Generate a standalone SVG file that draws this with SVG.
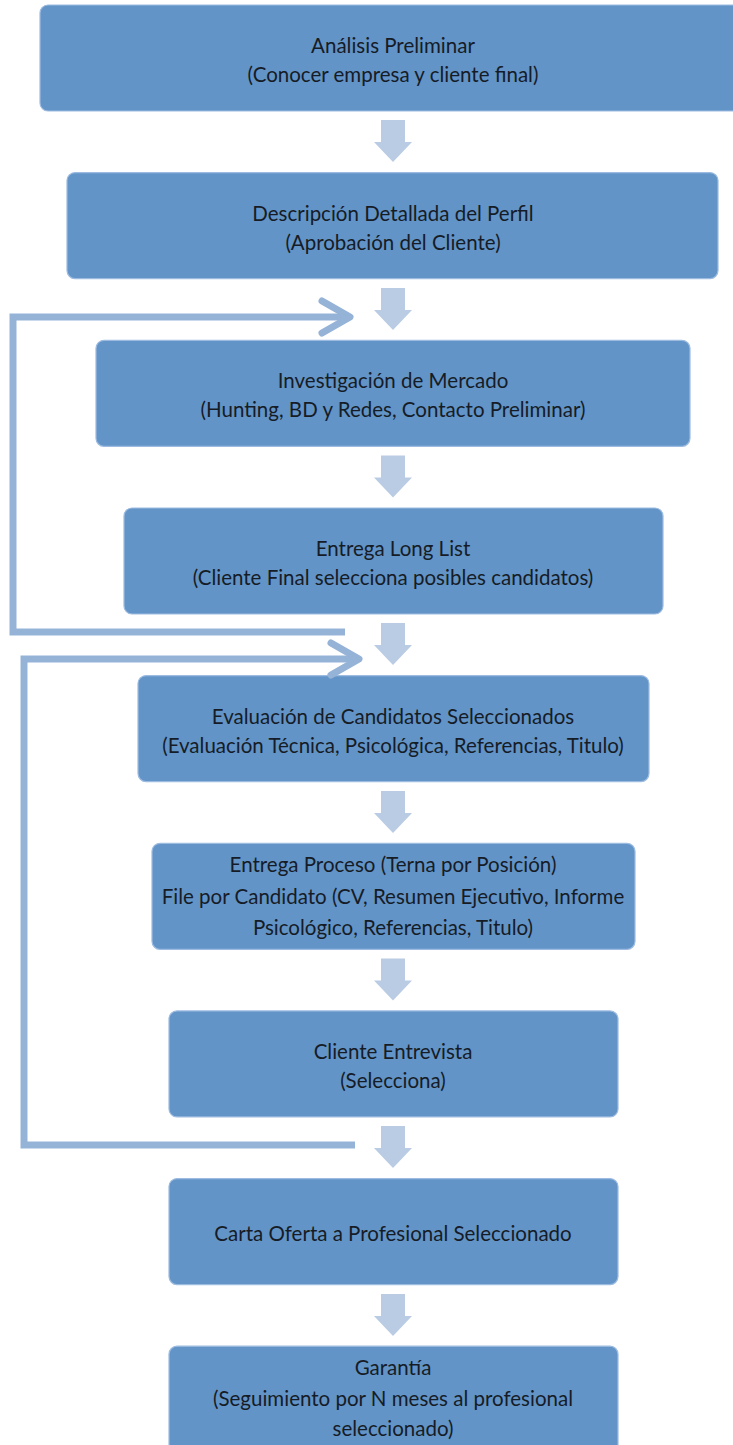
<svg xmlns="http://www.w3.org/2000/svg" width="733" height="1445" viewBox="0 0 733 1445">
<style>
.box{fill:#6294c8;stroke:#9dbbe0;stroke-width:1.2}
.t{font-family:Lato,"Open Sans","Liberation Sans",sans-serif;font-size:20.5px;fill:#161c26;text-anchor:middle;dominant-baseline:central}
.loop{fill:none;stroke:#95b3d7;stroke-width:7}
.chev{fill:none;stroke:#95b3d7;stroke-width:7;stroke-linecap:round;stroke-linejoin:round}
.blk{fill:#b9cce4}
</style>
<defs>
<path id="darr" d="M-12 0 H12 V22 H19 L0 42 L-19 22 H-12 Z"/>
</defs>
<rect width="733" height="1445" fill="#ffffff"/>
<g id="n1"><rect class="box" x="40" y="5" width="706" height="106" rx="8"/><text class="t" x="393" y="45">Análisis Preliminar</text><text class="t" x="393" y="74">(Conocer empresa y cliente final)</text></g>
<g id="n2"><rect class="box" x="67" y="172.6" width="651" height="106" rx="8"/><text class="t" x="393" y="212.6">Descripción Detallada del Perfil</text><text class="t" x="393" y="241.6">(Aprobación del Cliente)</text></g>
<g id="n3"><rect class="box" x="96" y="340.3" width="594" height="106" rx="8"/><text class="t" x="393" y="380.3">Investigación de Mercado</text><text class="t" x="393" y="409.3">(Hunting, BD y Redes, Contacto Preliminar)</text></g>
<g id="n4"><rect class="box" x="124" y="508" width="539" height="106" rx="8"/><text class="t" x="393" y="548">Entrega Long List</text><text class="t" x="393" y="577">(Cliente Final selecciona posibles candidatos)</text></g>
<g id="n5"><rect class="box" x="138" y="675.6" width="511" height="106" rx="8"/><text class="t" x="393" y="715.6">Evaluación de Candidatos Seleccionados</text><text class="t" x="393" y="744.6">(Evaluación Técnica, Psicológica, Referencias, Titulo)</text></g>
<g id="n6"><rect class="box" x="152" y="843.3" width="483" height="106" rx="8"/><text class="t" x="393" y="864.3">Entrega Proceso (Terna por Posición)</text><text class="t" x="393" y="895.8">File por Candidato (CV, Resumen Ejecutivo, Informe</text><text class="t" x="393" y="927.3">Psicológico, Referencias, Titulo)</text></g>
<g id="n7"><rect class="box" x="169" y="1010.9" width="449" height="106" rx="8"/><text class="t" x="393" y="1050.9">Cliente Entrevista</text><text class="t" x="393" y="1079.9">(Selecciona)</text></g>
<g id="n8"><rect class="box" x="169" y="1178.6" width="449" height="106" rx="8"/><text class="t" x="393" y="1232.6">Carta Oferta a Profesional Seleccionado</text></g>
<g id="n9"><rect class="box" x="169" y="1346.2" width="449" height="106" rx="8"/><text class="t" x="393" y="1367">Garantía</text><text class="t" x="393" y="1397.5">(Seguimiento por N meses al profesional</text><text class="t" x="393" y="1428">seleccionado)</text></g>
<g id="connectors">
<use href="#darr" class="blk" x="393" y="120"/>
<use href="#darr" class="blk" x="393" y="288"/>
<use href="#darr" class="blk" x="393" y="455.5"/>
<use href="#darr" class="blk" x="393" y="623"/>
<use href="#darr" class="blk" x="393" y="791"/>
<use href="#darr" class="blk" x="393" y="958.5"/>
<use href="#darr" class="blk" x="393" y="1126"/>
<use href="#darr" class="blk" x="393" y="1294"/>
<polyline class="loop" points="345,632 13,632 13,317 348,317"/>
<polyline class="chev" points="322,301 350,317 322,333"/>
<polyline class="loop" points="355,1145 24,1145 24,659 358,659"/>
<polyline class="chev" points="331,643 359,659 331,675"/>
</g>
</svg>
